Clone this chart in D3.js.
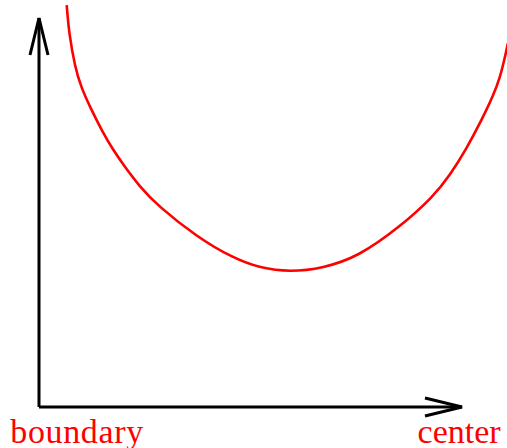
<!DOCTYPE html>
<html>
<head>
<meta charset="utf-8">
<script src="https://cdn.jsdelivr.net/npm/d3@7"></script>
<style>
  body { margin: 0; background: #fff; }
  svg { display: block; }
</style>
</head>
<body>
<div id="container"></div>
<script>
// size of the page
const width = 507,
  height = 448;

// curve (arbitrary units, axes run 0..10)
const curveX = [0.655, 0.709, 0.851, 0.993, 1.206, 1.489, 1.749, 2.033, 2.388, 2.790, 3.735, 4.586, 5.225, 5.934, 6.714, 7.541, 8.534, 9.322, 9.716, 10.111, 10.466, 10.733, 10.898, 11.017, 11.087];
const curveY = [10.33, 9.61, 8.74, 8.23, 7.71, 7.10, 6.61, 6.17, 5.66, 5.19, 4.37, 3.83, 3.57, 3.47, 3.57, 3.86, 4.63, 5.41, 5.96, 6.65, 7.38, 7.99, 8.46, 9.00, 9.36];

// the two labels under the x axis
const labels = ["boundary", "center"];
const labelPos = [-0.68, 8.95];

const x = d3.scaleLinear().domain([0, 10]).range([39, 462]);
const y = d3.scaleLinear().domain([0, 10]).range([407, 18]);

const svg = d3.select("#container")
  .append("svg")
  .attr("width", width)
  .attr("height", height);

// axes with open arrow heads
const axes = svg.append("g")
  .attr("stroke", "black")
  .attr("stroke-width", 3)
  .attr("fill", "none");

axes.append("line")
  .attr("x1", x(0)).attr("y1", y(0))
  .attr("x2", x(10)).attr("y2", y(0));
axes.append("line")
  .attr("x1", x(0)).attr("y1", y(0))
  .attr("x2", x(0)).attr("y2", y(10));

// arrow heads
axes.append("path")
  .attr("d", `M${x(10) - 37},${y(0) - 9} L${x(10)},${y(0)} L${x(10) - 37},${y(0) + 9}`);
axes.append("path")
  .attr("d", `M${x(0) - 9},${y(10) + 37} L${x(0)},${y(10)} L${x(0) + 9},${y(10) + 37}`);

// the red curve (b-spline smooths the hand-read points)
const line = d3.line()
  .x((d, i) => x(curveX[i]))
  .y(d => y(d))
  .curve(d3.curveBasis);

svg.append("path")
  .datum(curveY)
  .attr("d", line)
  .attr("fill", "none")
  .attr("stroke", "red")
  .attr("stroke-width", 2.6);

svg.selectAll("text.lab")
  .data(labels)
  .join("text")
  .attr("class", "lab")
  .attr("x", (d, i) => x(labelPos[i]))
  .attr("y", 443)
  .attr("fill", "red")
  .attr("font-family", "'Liberation Serif', 'DejaVu Serif', serif")
  .attr("font-size", 34)
  .attr("textLength", (d, i) => i === 0 ? 133 : null)
  .text(d => d);
</script>
</body>
</html>
